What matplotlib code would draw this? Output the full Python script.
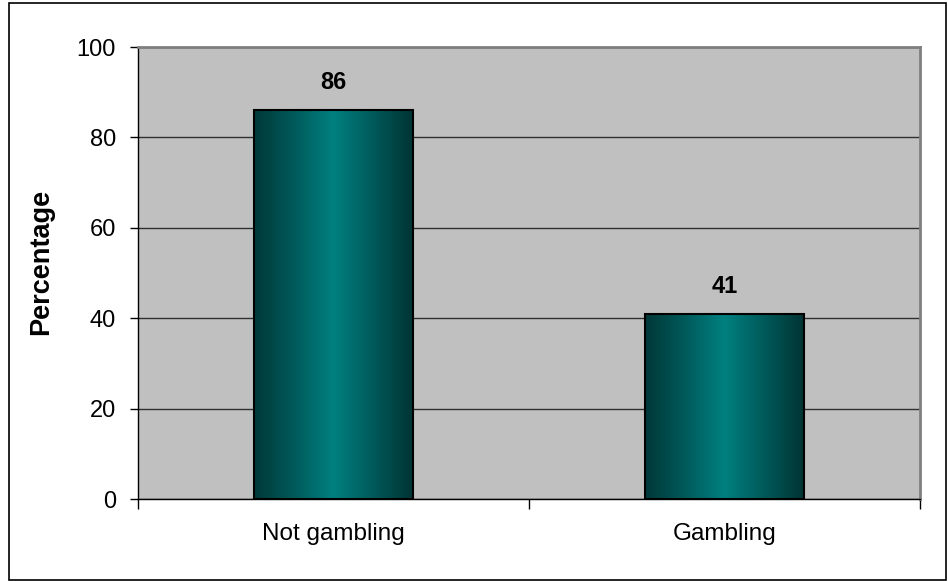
import numpy as np
import matplotlib.pyplot as plt
from matplotlib.colors import LinearSegmentedColormap
from matplotlib.patches import Rectangle

plt.rcParams['font.family'] = ['Liberation Sans', 'DejaVu Sans']

categories = ["Not gambling", "Gambling"]
values = [86, 41]
yticks = [0, 20, 40, 60, 80, 100]

fig = plt.figure(figsize=(9.48, 5.81), dpi=100)
fig.patches.append(Rectangle((0.009, 0.002), 0.989, 0.993, transform=fig.transFigure,
                             fill=False, edgecolor="black", linewidth=1.2))
ax = fig.add_axes([138 / 948, 1 - 499 / 581, 782 / 948, 452 / 581])
ax.set_facecolor("#c0c0c0")

# teal shading, dark on both sides and bright in the middle
cmap = LinearSegmentedColormap.from_list(
    "teal", ["#003838", "#005a5a", "#008080", "#005a5a", "#003434"])
grad = np.linspace(0, 1, 256).reshape(1, -1)

width = 0.405
x = np.arange(len(categories))
bars = ax.bar(x, values, width=width, facecolor="none", edgecolor="black",
              linewidth=1.5, zorder=3)
for b, v in zip(bars, values):
    x0 = b.get_x()
    ax.imshow(grad, cmap=cmap, aspect="auto", extent=(x0, x0 + width, 0, v),
              zorder=2, interpolation="bicubic")
    ax.text(b.get_x() + width / 2, v + 4.6, str(v), ha="center", va="baseline",
            fontsize=17, fontweight="bold")

ax.set_xlim(-0.5, len(categories) - 0.5)
ax.set_ylim(0, 100)
ax.set_yticks(yticks)
ax.tick_params(axis="y", labelsize=17, length=6, direction="out", width=1, pad=10)
ax.set_xticks(x)
ax.set_xticklabels(categories, fontsize=17.5)
ax.tick_params(axis="x", length=0, pad=17)
ax.set_xticks([-0.5, 0.5, 1.5], minor=True)
ax.tick_params(axis="x", which="minor", length=7, width=1)
ax.yaxis.grid(True, color="#303030", linewidth=1)
ax.set_axisbelow(True)
ax.set_ylabel("Percentage", fontsize=19.5, fontweight="bold")
ax.yaxis.set_label_coords(-0.107, 0.525)

for s in ["top", "right"]:
    ax.spines[s].set_color("#808080")
    ax.spines[s].set_linewidth(2)
for s in ["left", "bottom"]:
    ax.spines[s].set_color("black")
    ax.spines[s].set_linewidth(1)

fig.savefig("out.png", dpi=100)
